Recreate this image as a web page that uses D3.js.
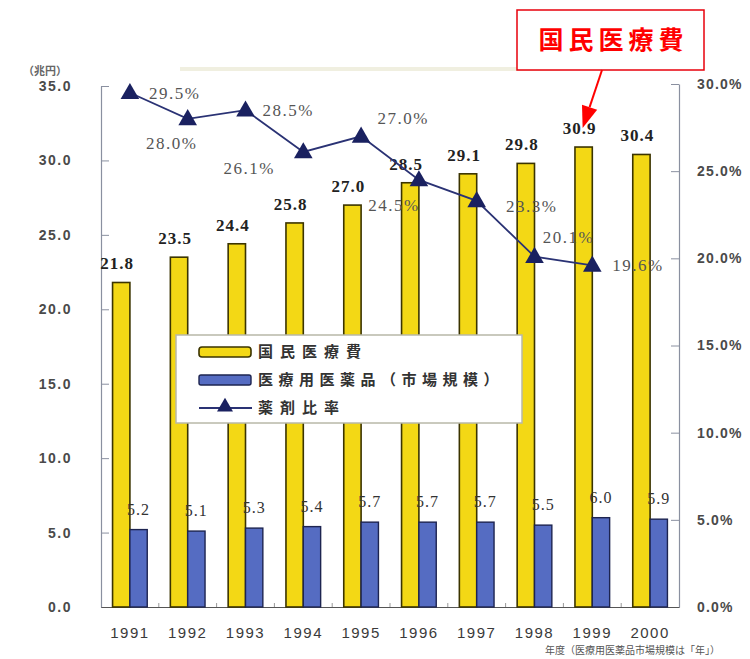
<!DOCTYPE html>
<html>
<head>
<meta charset="utf-8">
<script src="https://cdn.jsdelivr.net/npm/d3@7"></script>
<style>
  html, body { margin: 0; padding: 0; background: #fff; }
  svg { display: block; }
</style>
</head>
<body>
<svg id="chart" width="750" height="659"></svg>
<script>
// Fiscal years
const years = ["1991", "1992", "1993", "1994", "1995", "1996", "1997", "1998", "1999", "2000"];
// National medical expenditure (trillion yen)
const nationalMedicalCost = [21.8, 23.5, 24.4, 25.8, 27.0, 28.5, 29.1, 29.8, 30.9, 30.4];
// Prescription drug market size (trillion yen)
const drugMarket = [5.2, 5.1, 5.3, 5.4, 5.7, 5.7, 5.7, 5.5, 6.0, 5.9];
// Drug cost ratio (%), 1991-1999
const ratioYears = ["1991", "1992", "1993", "1994", "1995", "1996", "1997", "1998", "1999"];
const drugRatio = [29.5, 28.0, 28.5, 26.1, 27.0, 24.5, 23.3, 20.1, 19.6];
// Axis ticks
const leftTicks = [0, 5, 10, 15, 20, 25, 30, 35];
const rightTicks = [0, 5, 10, 15, 20, 25, 30];
// Legend entries
const legendLabels = ["国民医療費", "医療用医薬品（市場規模）", "薬剤比率"];
const calloutText = "国民医療費";

// Where each ratio label sits relative to its point
const ratioLabelOffsets = [
  [19, 0, "start"], [-16, 24, "middle"], [17, 0, "start"], [-54, 16, "middle"],
  [42, -18, "middle"], [-25, 25, "middle"], [55, 5, "middle"], [34, -20, "middle"], [20, 0, "start"]
];

const svg = d3.select("#chart");
const X0 = 101, X1 = 679, Y0 = 607;

const x = d3.scaleBand().domain(years).range([X0, X1]).paddingInner(0.4).paddingOuter(0.2);
const xs = d3.scaleBand().domain(["cost", "drug"]).range([0, x.bandwidth()]);
const yL = d3.scaleLinear().domain([0, 35]).range([Y0, 86]);
const yR = d3.scaleLinear().domain([0, 30]).range([Y0, 84]);

const YELLOW = "#f3d815", BLUE = "#556cc2", NAVY = "#1a2160";

// faint band left from a cropped heading
svg.append("rect").attr("x", 180).attr("y", 67).attr("width", 380).attr("height", 4)
  .attr("fill", "#e6e4cc").attr("opacity", 0.6);

// unit label
svg.append("text").attr("x", 45).attr("y", 75).attr("text-anchor", "middle")
  .attr("font-family", "Noto Sans CJK JP").attr("font-weight", "bold")
  .attr("font-size", 11).attr("fill", "#666")
  .text("（兆円）");

// Left axis
const gL = svg.append("g").attr("transform", `translate(${X0},0)`)
  .call(d3.axisLeft(yL).tickValues(leftTicks).tickSizeInner(-8).tickSizeOuter(0)
    .tickPadding(29).tickFormat(d3.format(".1f")));
gL.select(".domain").attr("stroke", "#8a90a0").attr("stroke-width", 1.2);
gL.selectAll(".tick line").attr("stroke", "#8a90a0");
gL.selectAll(".tick text").attr("font-family", "Liberation Sans").attr("font-weight", "bold")
  .attr("font-size", 14).attr("letter-spacing", 1.5).attr("fill", "#4a4a4a");

// Right axis
const gR = svg.append("g").attr("transform", `translate(${X1},0)`)
  .call(d3.axisRight(yR).tickValues(rightTicks).tickSizeInner(-8).tickSizeOuter(0)
    .tickPadding(18).tickFormat(d => d3.format(".1f")(d) + "%"));
gR.select(".domain").attr("stroke", "#8a90a0").attr("stroke-width", 1.2);
gR.selectAll(".tick line").attr("stroke", "#8a90a0");
gR.selectAll(".tick text").attr("font-family", "Liberation Sans").attr("font-weight", "bold")
  .attr("font-size", 14).attr("letter-spacing", 1.2).attr("fill", "#4a4a4a");

// Bottom axis
const gB = svg.append("g").attr("transform", `translate(0,${Y0})`)
  .call(d3.axisBottom(x).tickSize(0).tickPadding(20));
gB.select(".domain").attr("stroke", "#555").attr("stroke-width", 1.2);
gB.selectAll(".tick text").attr("font-family", "Liberation Sans")
  .attr("font-size", 15).attr("letter-spacing", 1.5).attr("fill", "#3a3a3a");
// small ticks between categories
svg.append("g").selectAll("line").data(years.slice(1)).join("line")
  .attr("x1", d => x(d) - x.step() * x.paddingInner() / 2)
  .attr("x2", d => x(d) - x.step() * x.paddingInner() / 2)
  .attr("y1", Y0).attr("y2", Y0 - 4).attr("stroke", "#999");

svg.append("text").attr("x", 720).attr("y", 654).attr("text-anchor", "end")
  .attr("font-family", "Noto Sans CJK JP").attr("font-size", 10).attr("fill", "#555")
  .text("年度（医療用医薬品市場規模は「年」）");

// Bars
const groups = svg.append("g").selectAll("g").data(years).join("g")
  .attr("transform", d => `translate(${x(d)},0)`);
groups.append("rect")
  .attr("x", xs("cost")).attr("width", xs.bandwidth())
  .attr("y", (d, i) => yL(nationalMedicalCost[i]))
  .attr("height", (d, i) => Y0 - yL(nationalMedicalCost[i]))
  .attr("fill", YELLOW).attr("stroke", "#3b3400").attr("stroke-width", 1.6);
groups.append("rect")
  .attr("x", xs("drug")).attr("width", xs.bandwidth())
  .attr("y", (d, i) => yL(drugMarket[i]))
  .attr("height", (d, i) => Y0 - yL(drugMarket[i]))
  .attr("fill", BLUE).attr("stroke", "#1d2450").attr("stroke-width", 1.4);

// Bar value labels
groups.append("text")
  .attr("x", xs("cost") + xs.bandwidth() / 2 - 4)
  .attr("y", (d, i) => yL(nationalMedicalCost[i]) - 13)
  .attr("text-anchor", "middle").attr("font-family", "Liberation Serif")
  .attr("font-weight", "bold").attr("font-size", 17).attr("letter-spacing", 1)
  .attr("fill", "#222").text((d, i) => nationalMedicalCost[i].toFixed(1));
groups.append("text")
  .attr("x", xs("drug") + xs.bandwidth() / 2)
  .attr("y", (d, i) => yL(drugMarket[i]) - 15)
  .attr("text-anchor", "middle").attr("font-family", "Liberation Serif")
  .attr("font-size", 16).attr("letter-spacing", 1)
  .attr("fill", "#333").text((d, i) => drugMarket[i].toFixed(1));

// Drug ratio line
const cx = d => x(d) + x.bandwidth() / 2;
const line = d3.line().x((d, i) => cx(ratioYears[i])).y(d => yR(d));
svg.append("path").datum(drugRatio).attr("d", line)
  .attr("fill", "none").attr("stroke", "#2a3274").attr("stroke-width", 1.8);
const tri = d3.symbol().type(d3.symbolTriangle).size(150);
svg.append("g").selectAll("path").data(drugRatio).join("path")
  .attr("transform", (d, i) => `translate(${cx(ratioYears[i])},${yR(d) + 1})`)
  .attr("d", tri).attr("fill", NAVY);
svg.append("g").selectAll("text").data(drugRatio).join("text")
  .attr("x", (d, i) => cx(ratioYears[i]) + ratioLabelOffsets[i][0])
  .attr("y", (d, i) => yR(d) + ratioLabelOffsets[i][1])
  .attr("dy", "0.35em").attr("text-anchor", (d, i) => ratioLabelOffsets[i][2])
  .attr("font-family", "Liberation Serif").attr("font-size", 17).attr("letter-spacing", 1.5)
  .attr("fill", "#555").text(d => d.toFixed(1) + "%");

// Legend
const lg = svg.append("g");
lg.append("rect").attr("x", 176).attr("y", 335).attr("width", 346).attr("height", 88)
  .attr("fill", "#fff").attr("stroke", "#b8b8a8").attr("stroke-width", 1.5);
const rowY = [352, 380, 408];
lg.append("rect").attr("x", 199).attr("y", rowY[0] - 5).attr("width", 52).attr("height", 10)
  .attr("rx", 3).attr("fill", YELLOW).attr("stroke", "#3b3400").attr("stroke-width", 1.6);
lg.append("rect").attr("x", 199).attr("y", rowY[1] - 5).attr("width", 52).attr("height", 10)
  .attr("rx", 2).attr("fill", BLUE).attr("stroke", "#1d2450").attr("stroke-width", 1.4);
lg.append("line").attr("x1", 199).attr("x2", 252).attr("y1", rowY[2]).attr("y2", rowY[2])
  .attr("stroke", "#2a3274").attr("stroke-width", 1.8);
lg.append("path").attr("transform", `translate(225,${rowY[2] - 1})`)
  .attr("d", d3.symbol().type(d3.symbolTriangle).size(110)).attr("fill", NAVY);
lg.selectAll("text.lbl").data(legendLabels).join("text").attr("class", "lbl")
  .attr("x", 258).attr("y", (d, i) => rowY[i]).attr("dy", "0.36em")
  .attr("font-family", "Noto Sans CJK JP").attr("font-weight", "bold")
  .attr("font-size", 15).attr("letter-spacing", (d, i) => i === 1 ? 5.5 : 7)
  .attr("fill", "#333").text(d => d);

// Callout pointing at the 1999 expenditure label
const box = { x: 517, y: 10, w: 187, h: 60 };
svg.append("rect").attr("x", box.x).attr("y", box.y).attr("width", box.w).attr("height", box.h)
  .attr("fill", "#fff").attr("stroke", "#e8000b").attr("stroke-width", 1.5);
svg.append("text").attr("x", box.x + box.w / 2 + 3).attr("y", box.y + box.h / 2).attr("dy", "0.36em")
  .attr("text-anchor", "middle").attr("font-family", "Noto Sans CJK JP").attr("font-weight", "bold")
  .attr("font-size", 25).attr("letter-spacing", 5).attr("fill", "#f00").text(calloutText);
const iTarget = years.indexOf("1999");
const tip = [x("1999") + xs("cost") + xs.bandwidth() / 2 - 1, yL(nationalMedicalCost[iTarget]) - 19];
const start = [box.x + 85, box.y + box.h];
const ang = Math.atan2(tip[1] - start[1], tip[0] - start[0]);
const hl = 22, hw = 8;
const base = [tip[0] - hl * Math.cos(ang), tip[1] - hl * Math.sin(ang)];
svg.append("line").attr("x1", start[0]).attr("y1", start[1]).attr("x2", base[0]).attr("y2", base[1])
  .attr("stroke", "#f00").attr("stroke-width", 2);
svg.append("path").attr("d", d3.line()([
  tip,
  [base[0] + hw * Math.sin(ang), base[1] - hw * Math.cos(ang)],
  [base[0] - hw * Math.sin(ang), base[1] + hw * Math.cos(ang)]
]) + "Z").attr("fill", "#f00");
</script>
</body>
</html>
